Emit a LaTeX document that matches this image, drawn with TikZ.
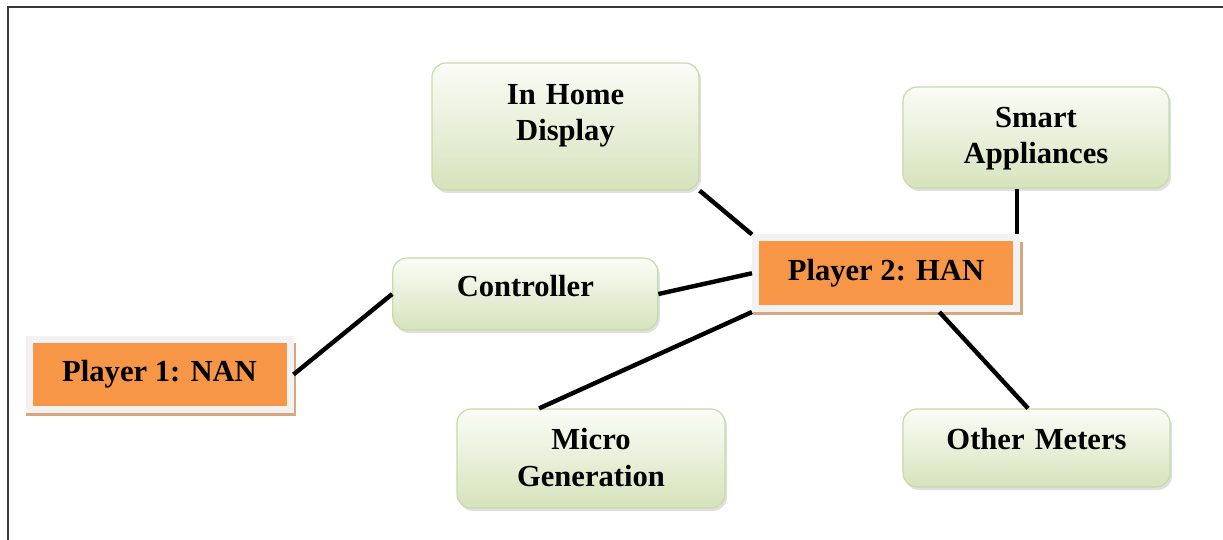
\documentclass[tikz,border=0pt]{standalone}
\usepackage{fontspec}
\setmainfont{Liberation Serif}
\usetikzlibrary{shapes,positioning,shadows}

\definecolor{hanorange}{RGB}{247,150,70}
\definecolor{framegray}{RGB}{242,242,242}
\definecolor{shadowtan}{RGB}{214,166,124}
\definecolor{greentop}{RGB}{251,252,247}
\definecolor{greenbottom}{RGB}{214,227,188}
\definecolor{greenedge}{RGB}{200,218,165}
\definecolor{pageframe}{RGB}{55,55,55}

\begin{document}
\begin{tikzpicture}
				[
					x=0.5pt, y=-0.5pt,
					greennode/.style={rectangle, rounded corners=7pt, draw=greenedge, line width=0.6pt, top color=greentop, bottom color=greenbottom, drop shadow={opacity=0.25, shadow xshift=1pt, shadow yshift=-1.5pt}, inner sep=0pt, align=center, font=\bfseries\fontsize{15.3pt}{18pt}\selectfont},
					orangenode/.style={rectangle, fill=hanorange, draw=framegray, line width=3.5pt, minimum width=130.5pt, minimum height=35.25pt, inner sep=0pt, general shadow={fill=shadowtan, shadow scale=1.035, shadow xshift=0.9pt, shadow yshift=-2.4pt}, font=\bfseries\fontsize{15.3pt}{18pt}\selectfont},
					link/.style={line width=2.2pt},
				]

				\useasboundingbox (0,0) rectangle (1223,540);
				\draw[pageframe, line width=1pt] (7.5,560) |- (1240,7.5);

				\node [orangenode] (nan) at (159.5,374.5) {Player 1: NAN};
				\node [orangenode] (han) at (886,273.25) {Player 2: HAN};
				\node [greennode] (ihd) [text width=133.5pt, text height=21pt, text depth=42.5pt] at (565.5,126.5) {In Home\\Display};
				\node [greennode] (sa) [text width=133pt, text height=20.5pt, text depth=30pt] at (1036,137.5) {Smart\\Appliances};
				\node [greennode] (ctl) [text width=132.5pt, text height=19.5pt, text depth=16.5pt] at (525.3,294) {Controller};
				\node [greennode] (mg) [text width=134pt, text height=20.5pt, text depth=29pt] at (591,458.5) {Micro\\Generation};
				\node [greennode] (om) [text width=133.5pt, text height=20pt, text depth=19pt] at (1036.5,448) {Other Meters};

				\draw[link] (nan.east) -- (ctl.west);
				\draw[link] (ctl.east) -- (han.west);
				\draw[link] (ihd.south east) -- (han.north west);
				\draw[link] ([xshift=-1.5pt]han.north east) -- ([xshift=-1.5pt]han.north east |- sa.south);
				\draw[link] (han.south west) -- (mg.136);
				\draw[link] (han.-36.4) -- (om.102);

			\end{tikzpicture}
\end{document}
